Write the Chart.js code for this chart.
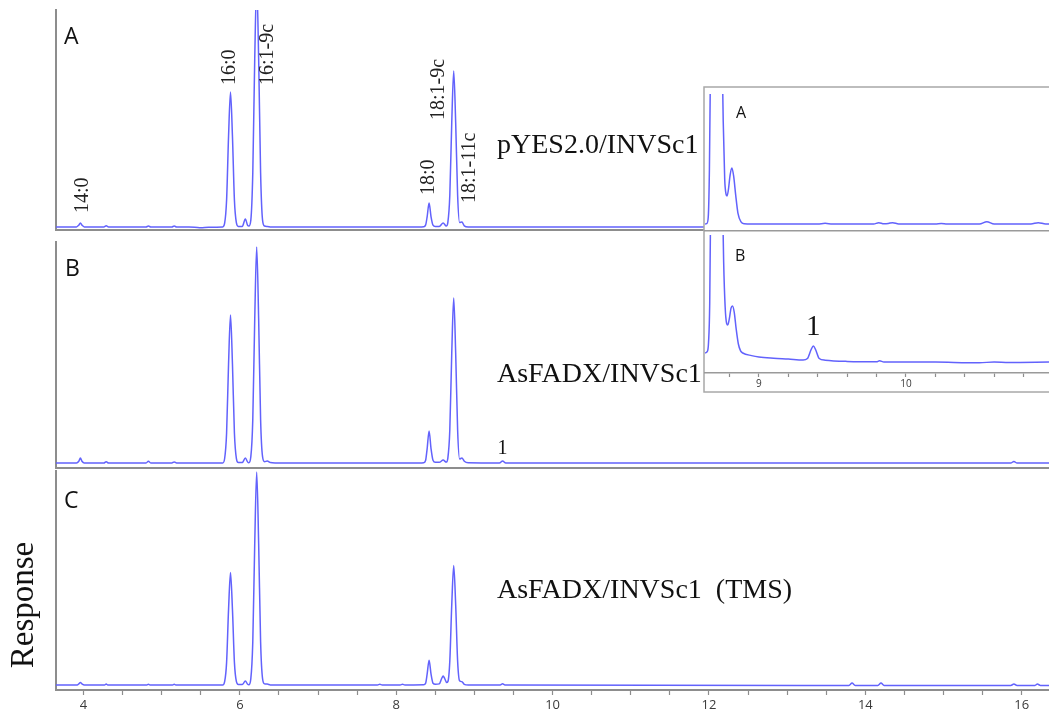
<!DOCTYPE html>
<html>
<head>
<meta charset="utf-8">
<title>GC chromatograms</title>
<script src="https://cdn.jsdelivr.net/npm/chart.js@4.4.1/dist/chart.umd.min.js"></script>
<style>
  html, body { margin: 0; padding: 0; background: #fff; }
  #stage { position: relative; width: 1049px; height: 712px; overflow: hidden; background: #fff; }
  #stage canvas { position: absolute; left: 0; top: 0; }
</style>
</head>
<body>
<div id="stage">
  <canvas id="panelA" width="1049" height="712"></canvas>
  <canvas id="panelB" width="1049" height="712"></canvas>
  <canvas id="panelC" width="1049" height="712"></canvas>
  <canvas id="zoomA" width="1049" height="712"></canvas>
  <canvas id="zoomB" width="1049" height="712"></canvas>
</div>
<script>
// ---- retention-time windows (min) ----
const mainRange = [3.648, 16.349];
const zoomRange = [8.633, 10.973];

// ---- axis tick labels ----
const mainTickLabels = [4, 6, 8, 10, 12, 14, 16];
const zoomTickLabels = [9, 10];
const zoomTickMarks = [8.8, 9, 9.2, 9.4, 9.6, 9.8, 10, 10.2, 10.4, 10.6, 10.8];

// ---- traces: [retention time, response (% of panel height)] ----
// A: pYES2.0 / INVSc1
const traceA = [
  [3.648, 1.4], [3.91, 1.4], [3.94, 2.2], [3.96, 3.2], [3.98, 2.2], [4.01, 1.4],
  [4.26, 1.4], [4.29, 1.9], [4.32, 1.4],
  [4.80, 1.4], [4.83, 1.8], [4.86, 1.4],
  [5.13, 1.4], [5.16, 1.8], [5.19, 1.4],
  [5.42, 1.3], [5.50, 1.0], [5.60, 1.3],
  [5.78, 1.4], [5.805, 3.1], [5.83, 13.6], [5.855, 42.5], [5.88, 62.7], [5.905, 42.5], [5.93, 13.6], [5.955, 3.3], [5.98, 1.6],
  [6.03, 1.6], [6.07, 5.0], [6.10, 2.0],
  [6.115, 1.8], [6.14, 4.5], [6.165, 26], [6.19, 78], [6.215, 112], [6.24, 78], [6.265, 26], [6.29, 4.5], [6.315, 1.8], [6.35, 1.6], [6.40, 1.4],
  [8.30, 1.4],
  [8.35, 1.5], [8.375, 2.2], [8.395, 6.0], [8.42, 12.3], [8.445, 6.0], [8.47, 2.2], [8.50, 1.6],
  [8.55, 1.6], [8.60, 3.2], [8.64, 1.8],
  [8.66, 3.5], [8.685, 15.8], [8.71, 49], [8.735, 72.3], [8.76, 49], [8.785, 15.8], [8.81, 3.4],
  [8.84, 3.6], [8.87, 1.9], [8.92, 1.4],
  [16.349, 1.4]
];
// B: AsFADX / INVSc1
const traceB = [
  [3.648, 2.2], [3.91, 2.2], [3.94, 3.0], [3.96, 4.4], [3.98, 3.0], [4.01, 2.2],
  [4.26, 2.2], [4.29, 2.8], [4.32, 2.2],
  [4.80, 2.2], [4.83, 3.0], [4.86, 2.2],
  [5.13, 2.2], [5.16, 2.7], [5.19, 2.2],
  [5.78, 2.2], [5.805, 4.2], [5.83, 15.5], [5.855, 46], [5.88, 67.7], [5.905, 46], [5.93, 15.5], [5.955, 4.3], [5.98, 2.4],
  [6.03, 2.4], [6.07, 4.4], [6.10, 2.6],
  [6.115, 2.3], [6.14, 5.0], [6.165, 21.5], [6.19, 66], [6.215, 97.8], [6.24, 66], [6.265, 21.5], [6.29, 5.0], [6.315, 2.8], [6.35, 3.1], [6.39, 2.4], [6.45, 2.2],
  [8.30, 2.2],
  [8.35, 2.3], [8.375, 3.3], [8.395, 8.5], [8.42, 16.4], [8.445, 8.5], [8.47, 3.4], [8.50, 2.5],
  [8.55, 2.5], [8.60, 3.5], [8.64, 2.6],
  [8.66, 4.4], [8.685, 16.8], [8.71, 51], [8.735, 75.2], [8.76, 51], [8.785, 16.8], [8.81, 4.0],
  [8.84, 4.4], [8.87, 3.0], [8.92, 2.3],
  [9.32, 2.2], [9.36, 3.1], [9.40, 2.2],
  [15.86, 2.2], [15.90, 2.9], [15.94, 2.2],
  [16.349, 2.2]
];
// C: AsFADX / INVSc1, TMS derivatives
const traceC = [
  [3.648, 2.3], [3.92, 2.3], [3.94, 2.8], [3.96, 3.4], [3.98, 2.8], [4.01, 2.3],
  [4.27, 2.3], [4.29, 2.7], [4.31, 2.3],
  [4.81, 2.3], [4.83, 2.6], [4.85, 2.3],
  [5.14, 2.3], [5.16, 2.6], [5.18, 2.3],
  [5.78, 2.3], [5.805, 3.8], [5.83, 12.6], [5.855, 36.7], [5.88, 53.6], [5.905, 36.7], [5.93, 12.6], [5.955, 3.9], [5.98, 2.5],
  [6.03, 2.5], [6.07, 4.1], [6.10, 2.6],
  [6.115, 2.4], [6.14, 5.2], [6.165, 22], [6.19, 67], [6.215, 99.5], [6.24, 67], [6.265, 22], [6.29, 5.2], [6.315, 2.8], [6.35, 2.7], [6.39, 2.3],
  [7.76, 2.3], [7.79, 2.6], [7.82, 2.3], [8.05, 2.3], [8.08, 2.6], [8.11, 2.3],
  [8.35, 2.4], [8.375, 3.0], [8.395, 7.2], [8.42, 13.6], [8.445, 7.2], [8.47, 3.1], [8.50, 2.6],
  [8.55, 2.8], [8.58, 5.2], [8.60, 6.4], [8.62, 5.2], [8.645, 3.4],
  [8.66, 3.8], [8.685, 13.2], [8.71, 39], [8.735, 56.8], [8.76, 39], [8.785, 13.2], [8.81, 4.2],
  [8.84, 3.8], [8.87, 2.6], [8.92, 2.3],
  [9.33, 2.3], [9.36, 2.8], [9.39, 2.3],
  [13.79, 2.1], [13.83, 3.2], [13.87, 2.1], [14.16, 2.1], [14.20, 3.2], [14.24, 2.1],
  [15.86, 2.1], [15.90, 2.7], [15.94, 2.1], [16.17, 2.1], [16.20, 2.7], [16.24, 2.1],
  [16.349, 2.1]
];
// expanded window of A and B around 18:1
const zoomTraceA = [
  [8.633, 5.1], [8.645, 5.4], [8.655, 10], [8.663, 45], [8.672, 140], [8.71, 420], [8.748, 140], [8.757, 80], [8.767, 38],
  [8.776, 27], [8.783, 25.5], [8.792, 30], [8.804, 41], [8.816, 46], [8.828, 40], [8.842, 26], [8.857, 13.1], [8.878, 6.6], [8.90, 5.3], [8.95, 5.1],
  [9.40, 5.1], [9.45, 5.6], [9.50, 5.1],
  [9.78, 5.1], [9.815, 6.1], [9.85, 5.3], [9.88, 5.5], [9.91, 6.1], [9.95, 5.1],
  [10.20, 5.1], [10.24, 5.5], [10.28, 5.1],
  [10.50, 5.1], [10.55, 6.8], [10.60, 5.1],
  [10.85, 5.1], [10.90, 6.1], [10.95, 5.1], [10.973, 5.1]
];
const zoomTraceB = [
  [8.633, 14.5], [8.648, 15.5], [8.657, 22], [8.665, 50], [8.673, 140], [8.71, 420], [8.75, 140], [8.76, 80], [8.77, 48],
  [8.78, 36], [8.788, 34.8], [8.798, 39], [8.81, 47], [8.82, 48.6], [8.832, 44], [8.845, 32], [8.86, 21], [8.875, 16], [8.89, 14.5],
  [8.95, 12.6], [9.0, 11.6], [9.1, 10.7], [9.2, 10.1], [9.3, 9.4],
  [9.33, 10.5], [9.355, 17], [9.37, 19.6], [9.385, 17], [9.41, 10.5], [9.45, 9.3],
  [9.6, 8.4], [9.8, 8.1], [9.82, 8.8], [9.85, 8.0], [10.0, 8.0], [10.2, 7.9], [10.5, 7.4], [10.6, 8.0], [10.7, 7.6], [10.973, 7.9]
];

// ---- peak annotations in panel A ----
const peakNames = ['14:0', '16:0', '16:1-9c', '18:0', '18:1-9c', '18:1-11c'];
const peakTimes = [3.96, 5.88, 6.215, 8.42, 8.735, 8.84];
const peakLabelLevel = [7.7, 65.9, 65.9, 15.9, 50, 12.3];
const peakLabelShift = [2, -1, 11, 0, -15, 8];

// ---- styling ----
const W = 1049, H = 712;
const AXIS = '#8d8d8d';
const TRACE = 'rgb(98,98,252)';
const SERIF = '"Liberation Serif", "Times New Roman", serif';
const SANS = '"Open Sans", Lato, sans-serif';

// minor tick every 0.5 min, labels every 2 min
const mainTickMarks = [];
mainTickLabels.forEach(v => { [0, 0.5, 1, 1.5].forEach(d => { if (v + d <= mainRange[1]) mainTickMarks.push(v + d); }); });

// text drawn on top of a panel; data-anchored items use the panel's scales
function textLayer(items) {
  return {
    id: 'textLayer',
    afterDatasetsDraw(chart) {
      const ctx = chart.ctx;
      const xs = chart.scales.x, ys = chart.scales.y;
      ctx.save();
      items.forEach(it => {
        let px, py;
        if (it.t !== undefined) {
          px = xs.getPixelForValue(it.t) + (it.dx || 0);
          py = ys.getPixelForValue(it.v);
        } else {
          px = it.x; py = it.y;
        }
        ctx.save();
        ctx.translate(px, py);
        if (it.rotate) ctx.rotate(-Math.PI / 2);
        ctx.font = it.font;
        ctx.fillStyle = it.color || '#111';
        ctx.textAlign = it.align || 'left';
        ctx.textBaseline = it.baseline || 'alphabetic';
        ctx.fillText(it.text, 0, 0);
        ctx.restore();
      });
      ctx.restore();
    }
  };
}

// white framed box behind the expanded window
const zoomFrame = {
  id: 'zoomFrame',
  beforeDraw(chart) {
    const ctx = chart.ctx;
    ctx.save();
    ctx.fillStyle = '#fff';
    ctx.fillRect(704, 87, 360, 305);
    ctx.strokeStyle = '#a8a8a8';
    ctx.lineWidth = 1.5;
    ctx.strokeRect(704, 87, 360, 305);
    ctx.restore();
  }
};

function makePanel(id, trace, area, xcfg, texts, extraPlugins) {
  const xh = xcfg.axisHeight;
  return new Chart(document.getElementById(id), {
    type: 'line',
    data: {
      datasets: [{
        data: trace.map(p => ({ x: p[0], y: p[1] })),
        borderColor: TRACE,
        borderWidth: 1.5,
        pointRadius: 0,
        fill: false,
        cubicInterpolationMode: 'monotone'
      }]
    },
    options: {
      responsive: false,
      animation: false,
      events: [],
      layout: { padding: { left: area.left, top: area.top, right: W - area.right, bottom: H - area.bottom - xh } },
      plugins: { legend: { display: false }, tooltip: { enabled: false } },
      scales: {
        x: {
          type: 'linear',
          min: xcfg.range[0], max: xcfg.range[1],
          border: { display: true, color: xcfg.axisColor || AXIS, width: xcfg.axisWidth || 2 },
          grid: { display: xcfg.marks.length > 0, drawOnChartArea: false, drawTicks: true,
                  tickLength: xcfg.tickLength || 5, tickColor: AXIS, tickWidth: 1.2 },
          ticks: {
            display: xcfg.labels.length > 0,
            autoSkip: false, maxRotation: 0, minRotation: 0,
            padding: xcfg.pad || 3,
            color: '#3a3a3a',
            font: { family: SANS, size: xcfg.fontSize || 12 },
            callback: v => (xcfg.labels.includes(v) ? String(v) : '')
          },
          afterBuildTicks: s => { s.ticks = xcfg.marks.map(v => ({ value: v })); },
          afterFit: s => { s.height = xh; }
        },
        y: {
          min: 0, max: 100,
          border: { display: area.yAxis !== false, color: AXIS, width: 2 },
          grid: { display: false, drawTicks: false },
          ticks: { display: false },
          afterFit: s => { s.width = 0; }
        }
      }
    },
    plugins: [textLayer(texts)].concat(extraPlugins || [])
  });
}

const noTicks = { range: mainRange, marks: [], labels: [], axisHeight: 0 };

// panel A
makePanel('panelA', traceA, { left: 56, top: 10, right: W, bottom: 230 }, noTicks,
  peakNames.map((n, i) => ({ text: n, t: peakTimes[i], v: peakLabelLevel[i], dx: peakLabelShift[i],
    rotate: true, baseline: 'middle', font: '20px ' + SERIF, color: '#222' }))
  .concat([
    { text: 'A', x: 64, y: 44, font: '23px ' + SANS },
    { text: 'pYES2.0/INVSc1', x: 497, y: 153, font: '28px ' + SERIF }
  ]));

// panel B
makePanel('panelB', traceB, { left: 56, top: 242, right: W, bottom: 468 }, noTicks, [
  { text: 'B', x: 65, y: 276, font: '23px ' + SANS },
  { text: 'AsFADX/INVSc1', x: 497, y: 382, font: '28px ' + SERIF },
  { text: '1', t: 9.36, v: 6.2, align: 'center', font: '20px ' + SERIF }
]);

// panel C with the shared time axis
makePanel('panelC', traceC, { left: 56, top: 471, right: W, bottom: 690 },
  { range: mainRange, marks: mainTickMarks, labels: mainTickLabels, axisHeight: 22, tickLength: 5, pad: 2, fontSize: 13 }, [
  { text: 'C', x: 64, y: 508, font: '23px ' + SANS },
  { text: 'AsFADX/INVSc1  (TMS)', x: 497, y: 598, font: '28px ' + SERIF },
  { text: 'Response', x: 33, y: 605, rotate: true, align: 'center', font: '33px ' + SERIF }
]);

// expanded window, upper trace
makePanel('zoomA', zoomTraceA, { left: 705, top: 94, right: W, bottom: 231, yAxis: false },
  { range: zoomRange, marks: [], labels: [], axisHeight: 0, axisColor: '#9a9a9a', axisWidth: 1.5 }, [
  { text: 'A', x: 736, y: 118, font: '16px ' + SANS }
], [zoomFrame]);

// expanded window, lower trace
makePanel('zoomB', zoomTraceB, { left: 705, top: 235, right: W, bottom: 373, yAxis: false },
  { range: zoomRange, marks: zoomTickMarks, labels: zoomTickLabels, axisHeight: 16, tickLength: 4, pad: 1, fontSize: 10,
    axisColor: '#9a9a9a', axisWidth: 1.5 }, [
  { text: 'B', x: 735, y: 261, font: '16px ' + SANS },
  { text: '1', t: 9.37, v: 27.5, align: 'center', font: '29px ' + SERIF }
]);
</script>
</body>
</html>
